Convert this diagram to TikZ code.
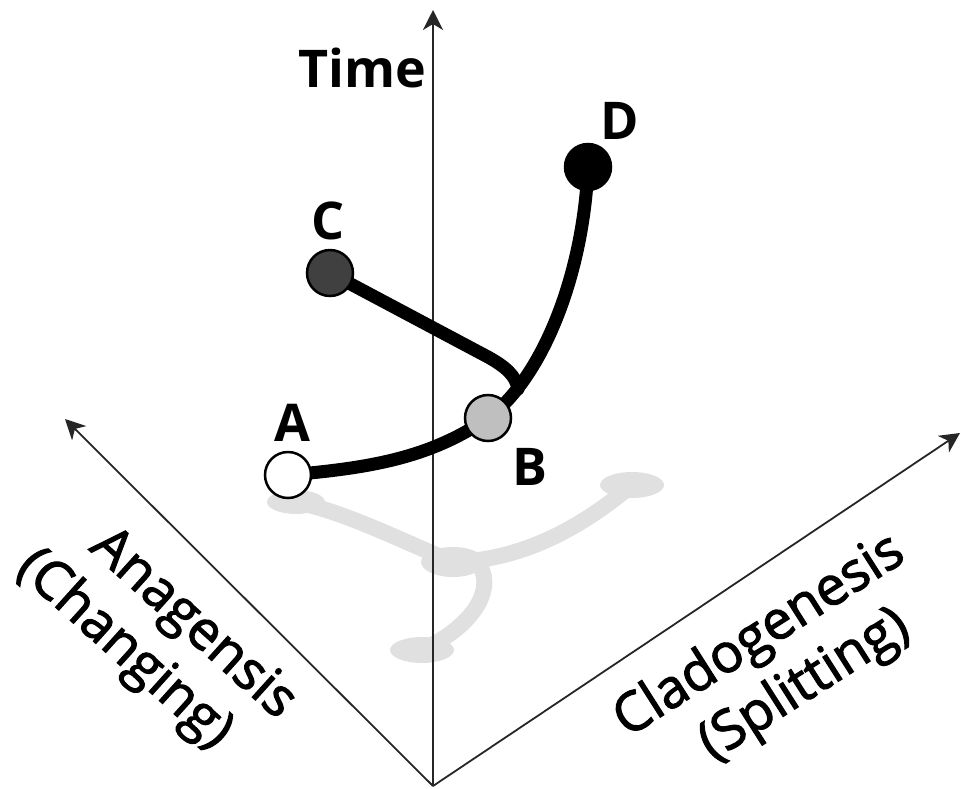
\documentclass[tikz,border=0pt]{standalone}
\usepackage{fontspec}
\setmainfont{Open Sans}
\newcommand{\heavier}[1]{\special{pdf:literal direct 2 Tr 1.1 w}#1\special{pdf:literal direct 0 Tr}}
\usetikzlibrary{arrows.meta}
\pgfdeclarelayer{bg}\pgfdeclarelayer{mid}
\pgfsetlayers{bg,mid,main}
\begin{document}
\begin{tikzpicture}[x=1pt,y=-1pt,
  lbl/.style={font=\fontsize{52}{60}\selectfont\bfseries, inner sep=0},
  axislbl/.style={font=\fontsize{54}{62}\selectfont, inner sep=0},
  axisline/.style={line width=1.8pt, draw=black!85, -{Stealth[length=20pt,width=20pt,inset=6pt]}},
  branch/.style={line width=13pt, line cap=round, line join=round},
  taxon/.style={circle, draw, line width=2.5pt, minimum size=46pt, inner sep=0},
  shadowline/.style={line width=16pt, draw=black!12, line cap=round},
  shadowblob/.style={fill=black!12}]
\useasboundingbox (0,0) rectangle (961,788);

% axes
\coordinate (O) at (433,786);
\coordinate (Tend) at (433,10);
\coordinate (Lend) at (65,419);
\coordinate (Rend) at (960,433);

% shadow coordinates
\coordinate (SA) at (296,502);
\coordinate (SJ) at (453,562);
\coordinate (SR) at (632,485);
\coordinate (SD) at (422,650);

\begin{pgfonlayer}{bg}
  \draw[shadowline] (SA) .. controls (345,512) and (400,540) .. (SJ);
  \draw[shadowline] (SJ) .. controls (530,560) and (590,520) .. (SR);
  \draw[shadowline] (480,566) .. controls (495,592) and (470,628) .. (SD);
  \fill[shadowblob] (SA) ellipse [x radius=29pt, y radius=12pt];
  \fill[shadowblob] (SJ) ellipse [x radius=32pt, y radius=15pt];
  \fill[shadowblob] (SR) ellipse [x radius=32pt, y radius=13pt];
  \fill[shadowblob] (SD) ellipse [x radius=32pt, y radius=13pt];
  \draw[axisline] (O) -- (Tend);
  \draw[axisline] (O) -- (Lend);
  \draw[axisline] (O) -- (Rend);
\end{pgfonlayer}

% taxa
\node[taxon, fill=white] (A) at (288,475) {};
\node[taxon, fill=black!25] (B) at (488,418) {};
\node[taxon, fill=black!75] (C) at (330,273) {};
\node[taxon, fill=black] (D) at (588,167) {};

\coordinate (K) at (488,357);
\coordinate (J) at (518,389);

\begin{pgfonlayer}{mid}
  \draw[branch] (A.center) .. controls (370,468) and (430,458) .. (B.center);
  \draw[branch] (B.center) .. controls (540,380) and (583,280) .. (D.center);
  \draw[branch] (C.center) -- (K) .. controls (506,367) and (516,376) .. (J);
\end{pgfonlayer}

% labels
\node[lbl] (lA) at (292,423) {A};
\node[lbl] (lB) at (530,467) {B};
\node[lbl] (lC) at (328,221) {C};
\node[lbl] (lD) at (620,121) {D};
\node[lbl] (lT) at (362,68) {Time};

\node[axislbl, rotate=-42] (an1) at (192,625) {\heavier{Anagensis}};
\node[axislbl, rotate=-42] (an2) at (124,650) {\heavier{(Changing)}};
\node[axislbl, rotate=32.5] (cl1) at (760,637) {\heavier{Cladogenesis}};
\node[axislbl, rotate=32.5] (cl2) at (805,686) {\heavier{(Splitting)}};
\end{tikzpicture}
\end{document}
